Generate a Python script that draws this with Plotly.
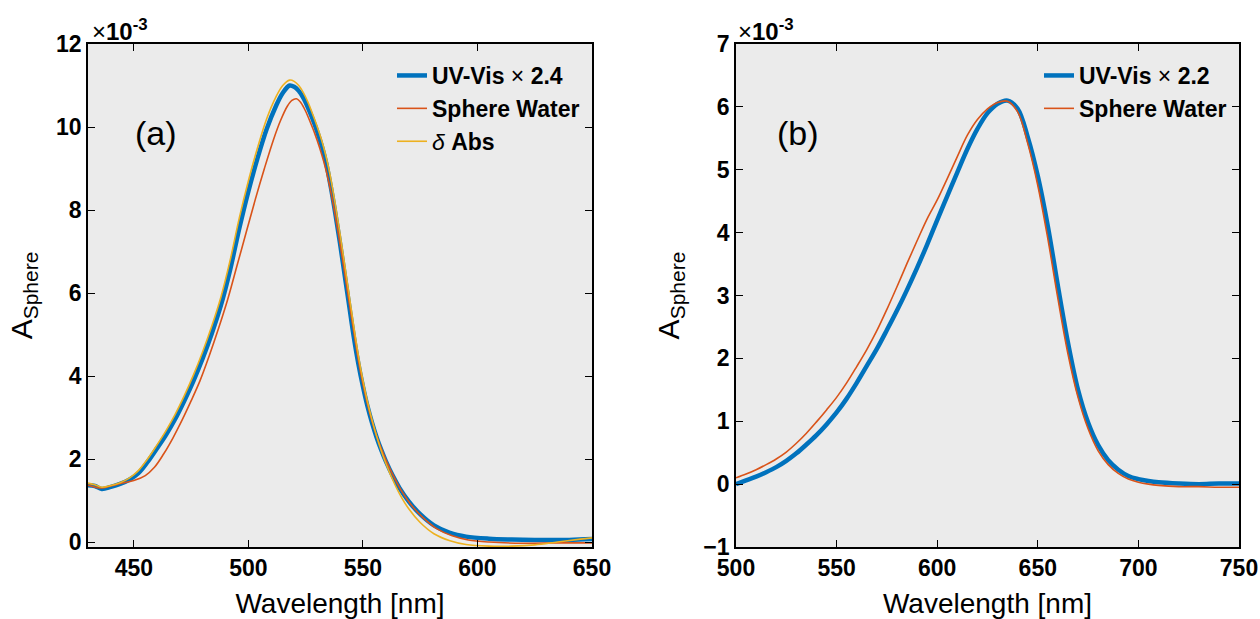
import plotly.graph_objects as go

# ---------------- Panel (a) data (values in units of 1e-3) ----------------
wl_a_uv = [430, 433, 436, 440, 444, 448, 452, 456, 460, 464, 468, 472, 476, 480, 484, 488, 492, 496, 500, 504,
           508, 512, 515, 518, 520, 522, 524, 526, 528, 530, 532, 534, 536, 538, 540, 542, 544, 546, 548, 550,
           552, 554, 556, 558, 560, 563, 566, 570, 575, 581, 588, 595, 605, 615, 625, 640, 650]
uv_a = [1.37, 1.35, 1.28, 1.33, 1.40, 1.50, 1.66, 1.93, 2.25, 2.58, 2.96, 3.40, 3.88, 4.42, 5.02, 5.70, 6.55,
        7.55, 8.45, 9.25, 9.95, 10.50, 10.82, 11.00, 10.97, 10.87, 10.70, 10.47, 10.20, 9.90, 9.55, 9.12, 8.55,
        7.90, 7.20, 6.45, 5.70, 4.95, 4.30, 3.75, 3.27, 2.87, 2.52, 2.22, 1.95, 1.60, 1.30, 0.98, 0.67, 0.40,
        0.22, 0.13, 0.08, 0.06, 0.05, 0.05, 0.07]

wl_a_sw = [430, 436, 440, 445, 450, 455, 459, 463, 467, 471, 475, 479, 483, 487, 491, 495, 499, 503, 507, 511,
           514, 517, 519, 521, 523, 525, 527, 529, 531, 533, 535, 537, 539, 541, 543, 545, 547, 549, 551, 553,
           555, 557, 559, 561, 564, 567, 571, 576, 582, 589, 596, 605, 620, 635, 650]
sw_a = [1.37, 1.30, 1.35, 1.42, 1.48, 1.60, 1.80, 2.12, 2.50, 2.93, 3.40, 3.90, 4.50, 5.15, 5.85, 6.65, 7.45,
        8.25, 9.00, 9.70, 10.15, 10.50, 10.64, 10.68, 10.58, 10.38, 10.12, 9.84, 9.52, 9.15, 8.70, 8.15, 7.52,
        6.85, 6.13, 5.42, 4.72, 4.08, 3.55, 3.10, 2.72, 2.40, 2.12, 1.86, 1.52, 1.22, 0.90, 0.60, 0.33, 0.15,
        0.05, 0.00, -0.03, -0.02, -0.02]

wl_a_da = [430, 433, 436, 440, 444, 448, 452, 456, 460, 464, 468, 472, 476, 480, 484, 488, 492, 496, 500, 504,
           508, 512, 515, 518, 520, 522, 524, 526, 528, 530, 532, 534, 536, 538, 540, 542, 544, 546, 548, 550,
           552, 554, 556, 558, 560, 563, 566, 570, 575, 581, 588, 595, 605, 615, 625, 635, 645, 650]
da_a = [1.42, 1.38, 1.32, 1.36, 1.43, 1.54, 1.72, 2.00, 2.33, 2.68, 3.07, 3.52, 4.02, 4.58, 5.20, 5.90, 6.78,
        7.80, 8.70, 9.50, 10.20, 10.72, 11.00, 11.13, 11.10, 11.00, 10.83, 10.60, 10.32, 10.02, 9.68, 9.27, 8.75,
        8.12, 7.43, 6.70, 5.95, 5.20, 4.50, 3.90, 3.38, 2.94, 2.55, 2.20, 1.90, 1.50, 1.16, 0.80, 0.47, 0.20,
        0.03, -0.06, -0.10, -0.10, -0.07, 0.00, 0.07, 0.10]

# ---------------- Panel (b) data (values in units of 1e-3) ----------------
wl_b = [500, 505, 510, 515, 520, 525, 530, 535, 540, 545, 550, 555, 560, 565, 570, 575, 580, 585, 590, 595,
        600, 605, 610, 615, 620, 625, 630, 635, 640, 645, 650, 655, 660, 665, 670, 675, 680, 685, 690, 695,
        700, 705, 710, 720, 730, 740, 750]
uv_b = [0.00, 0.06, 0.12, 0.19, 0.27, 0.37, 0.49, 0.63, 0.78, 0.95, 1.14, 1.36, 1.61, 1.88, 2.15, 2.45, 2.76,
        3.09, 3.44, 3.81, 4.20, 4.58, 4.96, 5.33, 5.65, 5.90, 6.05, 6.10, 5.97, 5.52, 4.90, 4.10, 3.15, 2.25,
        1.50, 0.98, 0.62, 0.38, 0.23, 0.13, 0.08, 0.05, 0.03, 0.01, 0.00, 0.01, 0.01]
sw_b = [0.10, 0.16, 0.23, 0.31, 0.40, 0.51, 0.65, 0.81, 0.99, 1.18, 1.38, 1.61, 1.87, 2.14, 2.44, 2.78, 3.14,
        3.51, 3.87, 4.22, 4.52, 4.86, 5.21, 5.55, 5.80, 5.97, 6.07, 6.09, 5.92, 5.42, 4.75, 3.90, 2.95, 2.07,
        1.38, 0.88, 0.53, 0.31, 0.17, 0.08, 0.03, 0.00, -0.02, -0.04, -0.04, -0.05, -0.05]

xticks_a = [450, 500, 550, 600, 650]
yticks_a = [0, 2, 4, 6, 8, 10, 12]
xticks_b = [500, 550, 600, 650, 700, 750]
yticks_b = [-1, 0, 1, 2, 3, 4, 5, 6, 7]

BLUE = "#0072BD"
ORANGE = "#D95319"
YELLOW = "#EDB120"
FONT = "Liberation Sans, Arial, sans-serif"

W, H = 1260, 619
ML, MR, MT, MB = 88, 21, 44, 72
PW, PH = W - ML - MR, H - MT - MB


def px(x):
    return (x - ML) / PW


def py(y):
    return (H - MB - y) / PH


fig = go.Figure()
fig.add_trace(go.Scatter(x=wl_a_uv, y=uv_a, mode="lines", line=dict(color=BLUE, width=4.5, shape="spline"),
                         name="<b>UV-Vis</b> × <b>2.4</b>", xaxis="x", yaxis="y", legend="legend"))
fig.add_trace(go.Scatter(x=wl_a_sw, y=sw_a, mode="lines", line=dict(color=ORANGE, width=1.6, shape="spline"),
                         name="<b>Sphere Water</b>", xaxis="x", yaxis="y", legend="legend"))
fig.add_trace(go.Scatter(x=wl_a_da, y=da_a, mode="lines", line=dict(color=YELLOW, width=1.6, shape="spline"),
                         name="<i>δ</i> <b>Abs</b>", xaxis="x", yaxis="y", legend="legend"))
fig.add_trace(go.Scatter(x=wl_b, y=uv_b, mode="lines", line=dict(color=BLUE, width=4.5, shape="spline"),
                         name="<b>UV-Vis</b> × <b>2.2</b>", xaxis="x2", yaxis="y2", legend="legend2"))
fig.add_trace(go.Scatter(x=wl_b, y=sw_b, mode="lines", line=dict(color=ORANGE, width=1.6, shape="spline"),
                         name="<b>Sphere Water</b>", xaxis="x2", yaxis="y2", legend="legend2"))


def xax(domain, rng, ticks, anchor):
    return dict(domain=domain, range=rng, tickvals=ticks, ticks="inside", ticklen=7, tickwidth=1.3,
                tickcolor="black", showline=True, linecolor="black", linewidth=1.6, mirror="ticks",
                showgrid=False, zeroline=False, anchor=anchor, automargin=False,
                tickfont=dict(family=FONT, size=23, color="black", weight="bold"),
                title=dict(text="Wavelength [nm]", font=dict(family=FONT, size=28, color="black")))


def yax(rng, ticks, anchor):
    return dict(domain=[0, 1], range=rng, tickvals=ticks, ticks="inside", ticklen=7, tickwidth=1.3,
                tickcolor="black", showline=True, linecolor="black", linewidth=1.6, mirror="ticks",
                showgrid=False, zeroline=False, anchor=anchor, automargin=False,
                tickfont=dict(family=FONT, size=23, color="black", weight="bold"),
                title=dict(text="A<sub>Sphere</sub>", font=dict(family=FONT, size=30, color="black")))


fig.update_layout(
    width=W, height=H, margin=dict(l=ML, r=MR, t=MT, b=MB),
    paper_bgcolor="white", plot_bgcolor="#ebebeb",
    xaxis=xax([0, px(592)], [430, 650], xticks_a, "y"),
    yaxis=yax([-0.12, 12], yticks_a, "x"),
    xaxis2=xax([px(736), 1], [500, 750], xticks_b, "y2"),
    yaxis2=yax([-1, 7], yticks_b, "x2"),
    legend=dict(x=px(585), xanchor="right", y=py(54), yanchor="top", bgcolor="rgba(0,0,0,0)",
                font=dict(family=FONT, size=23, color="black"), tracegroupgap=0),
    legend2=dict(x=px(1232), xanchor="right", y=py(54), yanchor="top", bgcolor="rgba(0,0,0,0)",
                 font=dict(family=FONT, size=23, color="black"), tracegroupgap=0),
    annotations=[
        dict(text="×<b>10</b><sup><b>-3</b></sup>", x=px(90), y=py(30), xref="paper", yref="paper",
             xanchor="left", yanchor="middle", showarrow=False, font=dict(family=FONT, size=24, color="black")),
        dict(text="×<b>10</b><sup><b>-3</b></sup>", x=px(736), y=py(30), xref="paper", yref="paper",
             xanchor="left", yanchor="middle", showarrow=False, font=dict(family=FONT, size=24, color="black")),
        dict(text="(a)", x=px(156), y=py(133), xref="paper", yref="paper", xanchor="center", yanchor="middle",
             showarrow=False, font=dict(family=FONT, size=34, color="black")),
        dict(text="(b)", x=px(798), y=py(133), xref="paper", yref="paper", xanchor="center", yanchor="middle",
             showarrow=False, font=dict(family=FONT, size=34, color="black")),
    ],
)

fig.write_html("out.html", config={"displayModeBar": False},
               post_script="document.body.style.margin='0';document.body.style.overflow='hidden';")
